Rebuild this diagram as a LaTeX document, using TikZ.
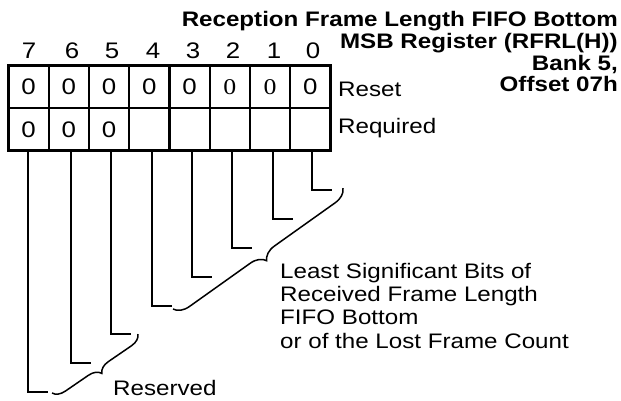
\documentclass[tikz,border=0pt]{standalone}
\usepackage{fontspec}
\setmainfont{Liberation Sans}[FakeStretch=1.15]
\newfontfamily\serifzero{Liberation Serif}[FakeStretch=1.15]
\usetikzlibrary{decorations.pathreplacing}
\newcommand\lblfont{\fontsize{21}{23.3}\selectfont}
\newcommand\titlefont{\fontsize{21}{21.7}\selectfont\bfseries}
\newcommand\digitfont{\fontsize{22.5}{23}\selectfont}
\tikzset{
  cell/.style={draw, line width=2.3pt, minimum width=40.25pt, minimum height=42.5pt,
               inner sep=0pt, outer sep=0pt, font=\digitfont},
  bitnum/.style={inner sep=0pt, anchor=base, font=\digitfont},
  leader/.style={line width=2pt},
  bracestyle/.style={decorate, decoration={brace, amplitude=#1}, line width=1.5pt},
  lbl/.style={inner sep=0pt, font=\lblfont},
}
\begin{document}
\begin{tikzpicture}[x=1pt, y=-1pt]
\useasboundingbox (0,0) rectangle (621,400);
% cells
\foreach \b/\i/\v in {7/0/0, 6/1/0, 5/2/0, 4/3/0, 3/4/0, 2/5/{\serifzero 0}, 1/6/{\serifzero 0}, 0/7/0} {
  \node[cell] (c\b) at (28.625+40.25*\i, 86.75) {\v};
}
\foreach \b/\i/\v in {7/0/0, 6/1/0, 5/2/0, 4/3/{}, 3/4/{}, 2/5/{}, 1/6/{}, 0/7/{}} {
  \node[cell] (r\b) at (28.625+40.25*\i, 129.25) {\v};
}
\draw[line width=3pt] (c7.north west) rectangle (r0.south east);
% bit numbers and leaders
\foreach \b/\x/\y in {7/28/392, 6/71/363, 5/111/334, 4/152/306, 3/192/277, 2/232/248, 1/273/219, 0/312/190} {
  \node[bitnum] (n\b) at (\x+1, 58.5) {\b};
  \coordinate (l\b) at (\x,\y);
  \coordinate (t\b) at (\x+20,\y);
  \draw[leader] (l\b |- r\b.south) -- (l\b) -- (t\b);
}
% labels
\node[lbl, anchor=base west] (reset) at (338, 96.7) {Reset};
\node[lbl, anchor=base west] (req) at (338, 133) {Required};
\node[inner sep=0pt, anchor=north east, align=right, font=\titlefont] (title) at (618, 11.3)
  {Reception Frame Length FIFO Bottom\\MSB Register (RFRL(H))\\Bank 5,\\Offset 07h};
% braces
\coordinate (b1s) at (343,188);
\coordinate (b1e) at (173,309);
\draw[bracestyle=15pt] (b1s) -- (b1e);
\coordinate (b2s) at (138,334);
\coordinate (b2e) at (52,393);
\draw[bracestyle=12pt] (b2s) -- (b2e);
\node[lbl, anchor=north west, align=left] (lsb) at (280, 262.7)
  {Least Significant Bits of\\Received Frame Length\\FIFO Bottom\\or of the Lost Frame Count};
\node[lbl, anchor=base west] (resv) at (113, 395.5) {Reserved};
\end{tikzpicture}
\end{document}
